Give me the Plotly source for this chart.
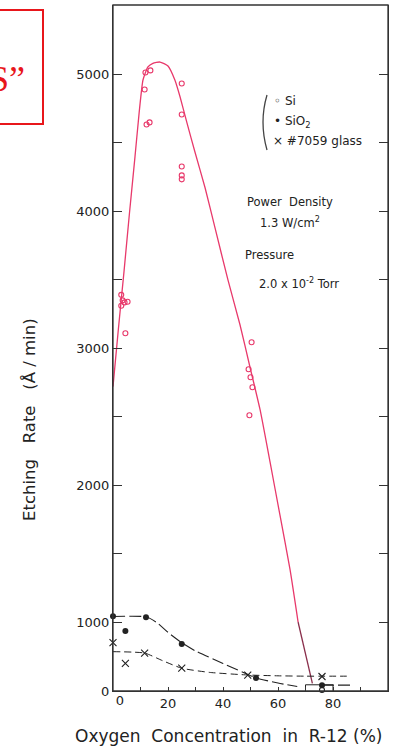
import plotly.graph_objects as go

# ---------------- data ----------------
# Si (open circles) - measured points above 1000 A/min
si_x = [3, 3.5, 4.2, 5.3, 3, 4.5,
        11.8, 13.6, 11.5, 12.2, 13.3,
        25, 25, 25, 25, 25,
        50.4, 49.3, 50, 50.7, 49.6]
si_y = [3390, 3350, 3335, 3340, 3310, 3110,
        5015, 5030, 4890, 4635, 4650,
        4934, 4708, 4328, 4263, 4234,
        3044, 2847, 2788, 2715, 2511]
# Si point near zero
si_low_x = [76]
si_low_y = [15]

# Si fitted curve (upper part, >= 1000) and lower part (<= 1000)
si_curve_x = [0, 2, 4, 6, 8, 9.5, 10.9, 12.7, 14.5, 17.1, 20, 22.5, 24.4, 26.9, 29.8,
              33.5, 37.1, 41.8, 46.2, 49.8, 53.5, 57.1, 60.7, 64.4, 67.3]
si_curve_y = [2720, 3150, 3560, 3990, 4400, 4720, 4960, 5055, 5082, 5091, 5062, 4960,
              4836, 4646, 4434, 4171, 3879, 3499, 3170, 2863, 2549, 2169, 1782, 1380, 1000]
si_curve_low_x = [67.3, 70.4, 72.5]
si_curve_low_y = [1000, 450, 110]

# SiO2 (filled circles)
sio2_x = [0, 4.5, 12, 25, 52, 76]
sio2_y = [1085, 870, 1070, 680, 190, 85]
sio2_curve_x = [0, 12, 16, 20, 25, 30, 40, 52, 60, 67, None, 76, 87]
sio2_curve_y = [1080, 1075, 990, 850, 700, 580, 400, 190, 115, 65, None, 85, 85]

# #7059 glass (crosses)
glass_x = [0, 4.5, 11.5, 25, 49, 76]
glass_y = [700, 400, 550, 330, 230, 210]
glass_curve_x = [0, 11.5, 18, 25, 35, 49, 60, 70, 85]
glass_curve_y = [570, 550, 440, 330, 270, 232, 220, 215, 215]

# small box near the x axis
box_x = [70, 70, 80, 80]
box_y = [0, 90, 90, 0]

# ticks
x_tickvals = [0, 10, 20, 30, 40, 50, 60, 70, 80, 90]
x_ticktext = ["", "", "20", "", "40", "", "60", "", "80", ""]
x_zero_tickvals = [0]
x_zero_ticktext = ["0"]
ylow_tickvals = [0, 1000]
ylow_ticktext = ["0", "1000"]
yup_tickvals = [1500, 2000, 2500, 3000, 3500, 4000, 4500, 5000]
yup_ticktext = ["", "2000", "", "3000", "", "4000", "", "5000"]

# ---------------- geometry ----------------
W, H = 396, 748
ML, MR, MT, MB = 113, 8, 5, 57
PW = W - ML - MR          # 275
PH = H - MT - MB          # 686
Y0PX = H - MB             # 691 (pixel of y=0)

def px2x(px):
    return (px - ML) / PW

def py2y(py):
    return (Y0PX - py) / PH

low_px_per_unit = 69 / 1000.0
up_px_per_unit = (622 - 74.5) / 4000.0
low_dom_top = 0.16
low_range_top = low_dom_top * PH / low_px_per_unit
up_dom_bot = (Y0PX - 622) / PH
up_range_top = 1000 + (622 - MT) / up_px_per_unit

RED = "#e8396b"
BLK = "#222222"
FONT = "DejaVu Sans"

fig = go.Figure()

# Si curve
fig.add_trace(go.Scatter(x=si_curve_x, y=si_curve_y, mode="lines", yaxis="y2",
                         line=dict(color=RED, width=1.3, shape="spline", smoothing=0.5),
                         hoverinfo="skip", showlegend=False))
fig.add_trace(go.Scatter(x=si_curve_low_x, y=si_curve_low_y, mode="lines", yaxis="y",
                         line=dict(color="#8a2f4c", width=1.3),
                         hoverinfo="skip", showlegend=False))
# Si points
fig.add_trace(go.Scatter(x=si_x, y=si_y, mode="markers", yaxis="y2", cliponaxis=False,
                         marker=dict(symbol="circle-open", size=5, color=RED,
                                     line=dict(width=1.1, color=RED)),
                         showlegend=False))
fig.add_trace(go.Scatter(x=si_low_x, y=si_low_y, mode="markers", yaxis="y", cliponaxis=False,
                         marker=dict(symbol="circle-open", size=5, color=BLK,
                                     line=dict(width=1.1, color=BLK)),
                         showlegend=False))
# box
fig.add_trace(go.Scatter(x=box_x, y=box_y, mode="lines", yaxis="y",
                         line=dict(color=BLK, width=1), hoverinfo="skip", showlegend=False))
# SiO2
fig.add_trace(go.Scatter(x=sio2_curve_x, y=sio2_curve_y, mode="lines", yaxis="y",
                         line=dict(color=BLK, width=1.1, dash="12px,4px", shape="spline",
                                   smoothing=0.5),
                         hoverinfo="skip", showlegend=False))
fig.add_trace(go.Scatter(x=sio2_x, y=sio2_y, mode="markers", yaxis="y", cliponaxis=False,
                         marker=dict(symbol="circle", size=6, color=BLK),
                         showlegend=False))
# glass
fig.add_trace(go.Scatter(x=glass_curve_x, y=glass_curve_y, mode="lines", yaxis="y",
                         line=dict(color=BLK, width=1.0, dash="7px,4px", shape="spline",
                                   smoothing=0.5),
                         hoverinfo="skip", showlegend=False))
fig.add_trace(go.Scatter(x=glass_x, y=glass_y, mode="markers", yaxis="y", cliponaxis=False,
                         marker=dict(symbol="x-thin-open", size=7, color=BLK,
                                     line=dict(width=1.1, color=BLK)),
                         showlegend=False))
# empty trace so the overlay x axis (label "0") is drawn
fig.add_trace(go.Scatter(x=[], y=[], xaxis="x2", yaxis="y", showlegend=False,
                         hoverinfo="skip"))

axis_common = dict(showgrid=False, zeroline=False, showline=True, linecolor="#333",
                   linewidth=1.3, tickcolor="#333", tickwidth=1.1,
                   tickfont=dict(family=FONT, size=13, color=BLK))

shapes = [
    # frame
    dict(type="rect", xref="paper", yref="paper", x0=0, x1=1, y0=0, y1=1,
         line=dict(color="#333", width=1.3)),
    # legend brace
    dict(type="path", xref="paper", yref="paper",
         path="M {},{} Q {},{} {},{}".format(px2x(267), py2y(95), px2x(259), py2y(122),
                                             px2x(267), py2y(150)),
         line=dict(color="#444", width=1.3)),
    # red box (top-left)
    dict(type="rect", xref="paper", yref="paper", x0=px2x(-10), x1=px2x(43),
         y0=py2y(124), y1=py2y(10), line=dict(color="#e8161b", width=2)),
]

def ann(text, px, py, size=12, xanchor="left", **kw):
    d = dict(text=text, xref="paper", yref="paper", x=px2x(px), y=py2y(py),
             xanchor=xanchor, yanchor="middle", showarrow=False,
             font=dict(family=FONT, size=size, color=BLK))
    d.update(kw)
    return d

annotations = [
    ann("\u25e6 Si", 272, 101, size=12),
    ann("\u2022 SiO<sub>2</sub>", 272, 122, size=12),
    ann("\u00d7 #7059 glass", 271, 141, size=12),
    ann("Power  Density", 245, 202, size=11.5),
    ann("1.3 W/cm<sup>2</sup>", 258, 223, size=11.5),
    ann("Pressure", 243, 255, size=11.5),
    ann("2.0 x 10<sup>-2</sup> Torr", 257, 283, size=11.5),
    ann("Oxygen  Concentration  in  R-12 (%)", 228, 736, size=17, xanchor="center"),
    ann("Etching   Rate   (\u00c5 / min)", 29, 420, size=16.5, xanchor="center", textangle=-90),
    dict(text="S\u201d", xref="paper", yref="paper", x=px2x(27), y=py2y(79),
         xanchor="right", yanchor="middle", showarrow=False,
         font=dict(family="Liberation Serif", size=36, color="#e8161b")),
]

fig.update_layout(
    width=W, height=H,
    margin=dict(l=ML, r=MR, t=MT, b=MB, pad=0),
    paper_bgcolor="white", plot_bgcolor="rgba(0,0,0,0)",
    showlegend=False,
    xaxis=dict(domain=[0, 1], range=[0, 100], anchor="y",
               tickvals=x_tickvals, ticktext=x_ticktext,
               ticks="inside", ticklen=4, **axis_common),
    xaxis2=dict(domain=[0, 1], range=[0, 100], anchor="y", overlaying="x", side="bottom",
                tickvals=x_zero_tickvals, ticktext=x_zero_ticktext, ticklabelshift=7,
                ticks="", showgrid=False, zeroline=False, showline=False,
                tickfont=dict(family=FONT, size=13, color=BLK)),
    yaxis=dict(domain=[0, low_dom_top], range=[0, low_range_top], anchor="x",
               tickvals=ylow_tickvals, ticktext=ylow_ticktext,
               ticks="inside", ticklen=9, mirror="ticks", **axis_common),
    yaxis2=dict(domain=[up_dom_bot, 1], range=[1000, up_range_top], anchor="x",
                tickvals=yup_tickvals, ticktext=yup_ticktext,
                ticks="inside", ticklen=9, mirror="ticks", **axis_common),
    shapes=shapes,
    annotations=annotations,
)

fig.write_html("out.html", config={"displayModeBar": False},
               post_script="document.body.style.margin='0px';document.body.style.overflow='hidden';")
